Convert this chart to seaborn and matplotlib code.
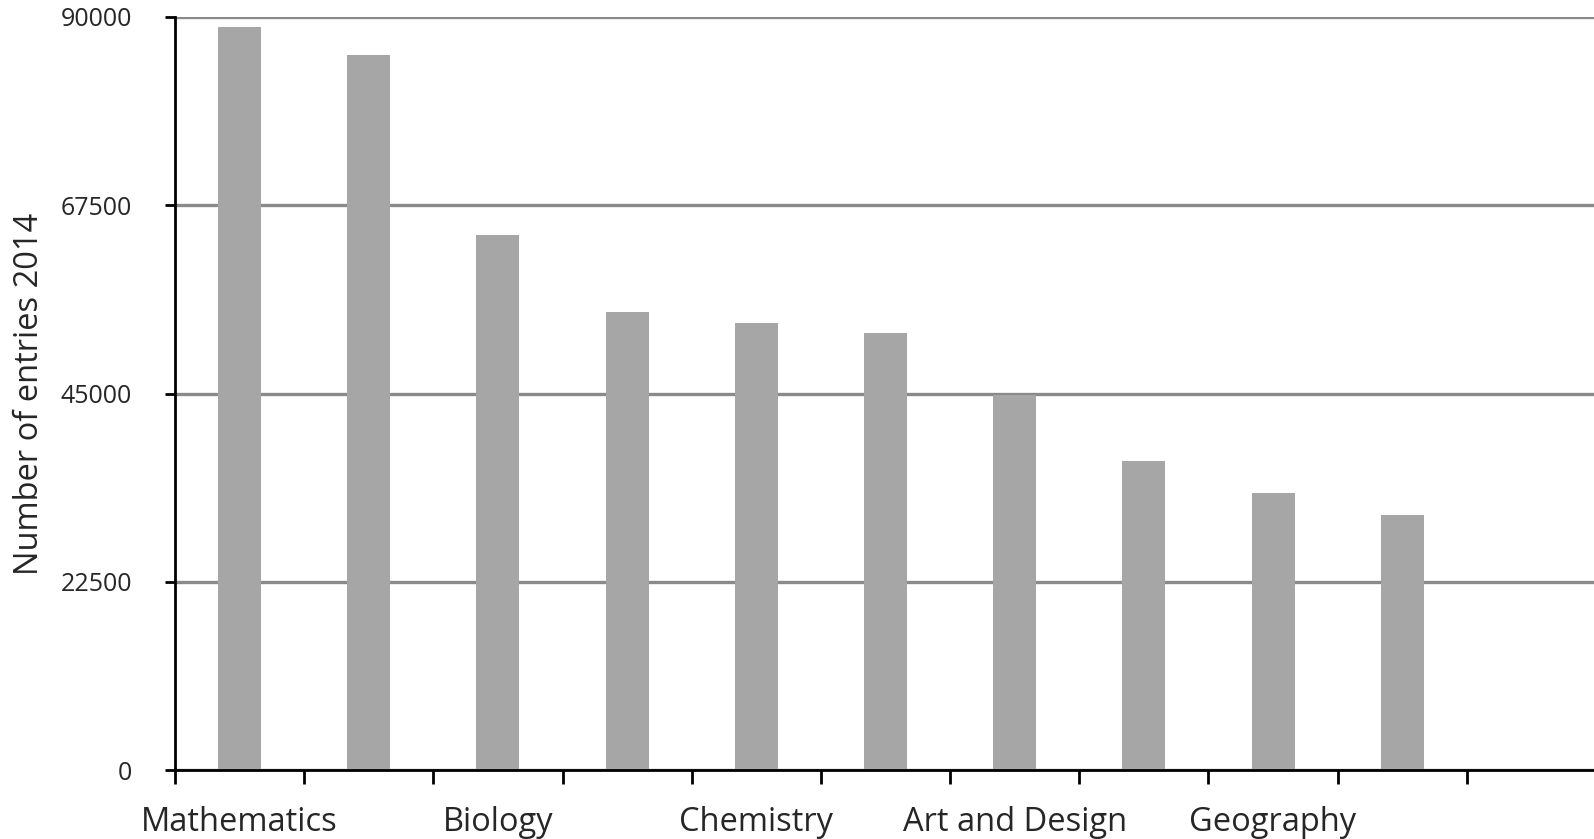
import numpy as np
import pandas as pd
import matplotlib as mpl
mpl.use('Agg')
import matplotlib.pyplot as plt
import seaborn as sns

# data (A-level entries 2014)
subjects = ['Mathematics', 'English', 'Biology', 'Psychology', 'Chemistry',
            'History', 'Art and Design', 'Physics', 'Geography', 'Business Studies']
entries = [88800, 85400, 63900, 54700, 53400, 52200, 44800, 36900, 33100, 30500]
slots = subjects + ['']  # trailing empty category slot
y_ticks = [0, 22500, 45000, 67500, 90000]

bar_color = '#a6a6a6'
grid_color = '#8a8a8a'


def main():
    sns.set_style('white')
    plt.rcParams['font.family'] = ['Open Sans', 'DejaVu Sans']

    df = pd.DataFrame({'subject': subjects, 'entries': entries})

    fig = plt.figure(figsize=(15.94, 8.39), dpi=100)
    ax = fig.add_axes([175 / 1594, (839 - 770) / 839, 1421 / 1594, 753 / 839])

    sns.barplot(data=df, x='subject', y='entries', order=slots, color=bar_color,
                width=0.333, saturation=1, linewidth=0, ax=ax, zorder=3)

    ax.set_xlim(-0.5, len(slots) - 0.5)
    ax.set_ylim(0, 90000)
    ax.set_yticks(y_ticks)
    ax.set_yticklabels([str(v) for v in y_ticks], fontsize=18)
    ax.yaxis.grid(True, color=grid_color, linewidth=2.4, zorder=0)
    ax.set_axisbelow(True)

    # ticks at category boundaries, labels (every other one) at centres
    ax.set_xticks(np.arange(len(slots) + 1) - 0.5)
    ax.set_xticklabels([])
    ax.set_xticks(np.arange(len(slots)), minor=True)
    ax.set_xticklabels([s if i % 2 == 0 else '' for i, s in enumerate(slots)],
                       minor=True, fontsize=23.5)
    ax.tick_params(axis='x', which='major', direction='out', length=10, width=2,
                   color='black', bottom=True)
    ax.tick_params(axis='x', which='minor', length=0, pad=26)
    ax.tick_params(axis='y', direction='out', length=7, width=2, color='black',
                   left=True, pad=24)

    ax.set_xlabel('')
    ax.set_ylabel('Number of entries 2014', fontsize=23.5)
    ax.yaxis.set_label_coords(-0.091, 0.5)

    for side in ['top', 'right']:
        ax.spines[side].set_visible(False)
    for side in ['left', 'bottom']:
        ax.spines[side].set_color('black')
        ax.spines[side].set_linewidth(2)
        ax.spines[side].set_zorder(4)

    plt.savefig('out.png', dpi=100)


if __name__ == '__main__':
    main()
